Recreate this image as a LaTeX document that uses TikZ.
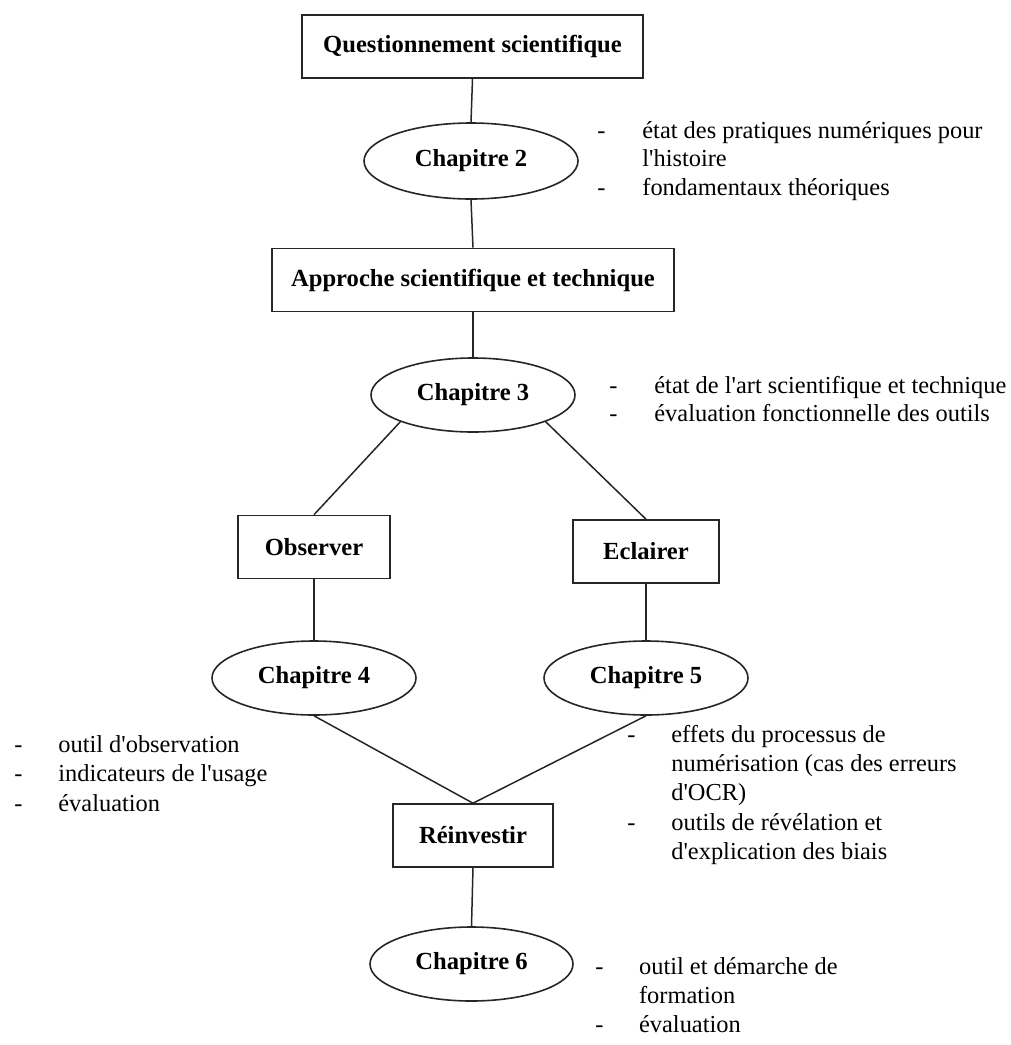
\documentclass[tikz,border=0pt]{standalone}
\usepackage{fontspec}
\setmainfont{Liberation Serif}
\usetikzlibrary{shapes.geometric}

% straight apostrophe, as typed
\newcommand{\apos}{\textquotesingle}

\tikzset{
  link/.style={draw=black!85, line width=0.75pt},
  stage/.style={draw=black!85, line width=0.8pt, rectangle, inner sep=0pt,
    font=\fontsize{12.3pt}{14.5pt}\selectfont\bfseries},
  chap/.style={draw=black!85, line width=0.8pt, ellipse, inner sep=0pt,
    minimum width=102pt, minimum height=37pt,
    font=\fontsize{12.3pt}{14.5pt}\selectfont\bfseries},
  note/.style={anchor=base west, inner sep=0pt,
    font=\fontsize{12.2pt}{14.5pt}\selectfont},
}

\begin{document}
\begin{tikzpicture}[x=0.5pt, y=-0.5pt]
  \useasboundingbox (0,0) rectangle (1011,1045);

  % main chain
  \node[stage, minimum width=170.5pt, minimum height=31.5pt] (quest) at (472.5,46.5) {Questionnement scientifique};
  \node[chap, minimum width=107pt, minimum height=38pt] (ch2) at (471,161) {Chapitre 2};
  \node[stage, minimum width=201pt, minimum height=31.5pt] (appr) at (473,280) {Approche scientifique et technique};
  \node[chap] (ch3) at (473,395) {Chapitre 3};

  % two branches
  \node[stage, minimum width=76pt, minimum height=31.5pt] (obs) at (314,547) {Observer};
  \node[stage, minimum width=73pt, minimum height=31.5pt] (ecl) at (646,551.5) {Eclairer};
  \node[chap] (ch4) at (314,678) {Chapitre 4};
  \node[chap] (ch5) at (646,678) {Chapitre 5};

  % merge
  \node[stage, minimum width=80pt, minimum height=31.5pt] (reinv) at (473,835.5) {Réinvestir};
  \node[chap, minimum width=101.5pt] (ch6) at (471.5,964) {Chapitre 6};

  % connectors
  \draw[link] (quest.south) -- (ch2.north);
  \draw[link] (ch2.south) -- (appr.north);
  \draw[link] (appr.south) -- (ch3.north);
  \draw[link] (ch3.south west) -- (obs.north);
  \draw[link] (ch3.south east) -- (ecl.north);
  \draw[link] (obs.south) -- (ch4.north);
  \draw[link] (ecl.south) -- (ch5.north);
  \draw[link] (ch4.south) -- (reinv.north);
  \draw[link] (ch5.south) -- (reinv.north);
  \draw[link] (reinv.south) -- (ch6.north);

  % notes: chapter 2
  \node[note] (d2a) at (597,138) {-};
  \node[note] (t2a) at (642,138) {état des pratiques numériques pour};
  \node[note] (t2b) at (642,166.7) {l\apos histoire};
  \node[note] (d2b) at (597,195.7) {-};
  \node[note] (t2c) at (642,195.7) {fondamentaux théoriques};

  % notes: chapter 3
  \node[note] (d3a) at (609,393) {-};
  \node[note] (t3a) at (654,393) {état de l\apos art scientifique et technique};
  \node[note] (d3b) at (609,421.7) {-};
  \node[note] (t3b) at (654,421.7) {évaluation fonctionnelle des outils};

  % notes: chapter 4
  \node[note] (d4a) at (14,752.7) {-};
  \node[note] (t4a) at (58,752.7) {outil d\apos observation};
  \node[note] (d4b) at (14,781.7) {-};
  \node[note] (t4b) at (58,781.7) {indicateurs de l\apos usage};
  \node[note] (d4c) at (14,811) {-};
  \node[note] (t4c) at (58,811) {évaluation};

  % notes: chapter 5
  \node[note] (d5a) at (627,742.7) {-};
  \node[note] (t5a) at (671,742.7) {effets du processus de};
  \node[note] (t5b) at (671,771.7) {numérisation (cas des erreurs};
  \node[note] (t5c) at (671,800) {d\apos OCR)};
  \node[note] (d5b) at (627,830) {-};
  \node[note] (t5d) at (671,830) {outils de révélation et};
  \node[note] (t5e) at (671,859) {d\apos explication des biais};

  % notes: chapter 6
  \node[note] (d6a) at (595,974) {-};
  \node[note] (t6a) at (638.7,974) {outil et démarche de};
  \node[note] (t6b) at (638.7,1003) {formation};
  \node[note] (d6b) at (595,1032.7) {-};
  \node[note] (t6c) at (638.7,1032.7) {évaluation};
\end{tikzpicture}
\end{document}
